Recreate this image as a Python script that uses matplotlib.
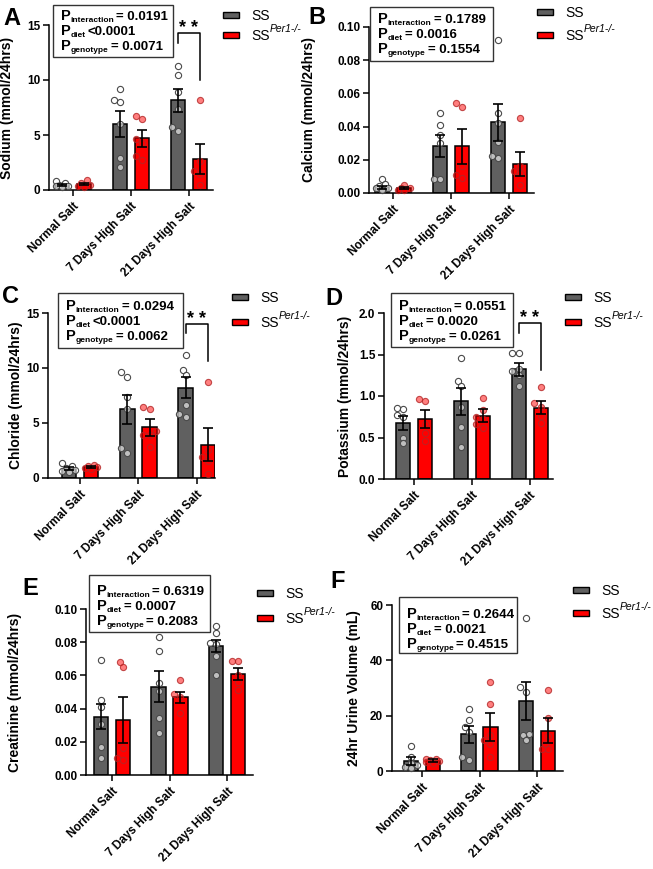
import matplotlib.pyplot as plt
import numpy as np
from matplotlib.patches import Rectangle
from matplotlib.transforms import ScaledTranslation

plt.rcParams['font.family'] = ['Liberation Sans', 'DejaVu Sans']
plt.rcParams['font.weight'] = 'bold'

W, H = 653, 869

diets = ['Normal Salt', '7 Days High Salt', '21 Days High Salt']
group_names = ['SS', 'Per1-/-']   # second one is drawn as SS + italic superscript

# A - sodium
sodium_ss_mean = [0.45, 6.0, 8.15]
sodium_ss_sem = [0.08, 1.2, 1.05]
sodium_ko_mean = [0.55, 4.7, 2.85]
sodium_ko_sem = [0.1, 0.8, 1.37]
sodium_ss_pts = [[0.6, 0.5, 0.4, 0.3, 0.8, 0.35], [9.2, 8.0, 8.2, 6.0, 2.9, 2.1], [11.3, 10.5, 8.9, 7.4, 5.7, 5.4]]
sodium_ko_pts = [[0.9, 0.5, 0.4, 0.6, 0.3], [6.5, 6.7, 4.6, 3.1, 2.7, 4.3], [8.2, 2.6, 1.7, 1.5, 0.45]]
sodium_p = ['= 0.0191', '<0.0001', '= 0.0071']

# B - calcium
calcium_ss_mean = [0.0035, 0.0284, 0.0425]
calcium_ss_sem = [0.001, 0.0065, 0.011]
calcium_ko_mean = [0.003, 0.0282, 0.0177]
calcium_ko_sem = [0.0005, 0.0105, 0.0072]
calcium_ss_pts = [[0.0085, 0.0055, 0.004, 0.003, 0.002, 0.003], [0.048, 0.041, 0.035, 0.030, 0.0087, 0.0087], [0.092, 0.048, 0.042, 0.031, 0.022, 0.021]]
calcium_ko_pts = [[0.005, 0.003, 0.002, 0.003, 0.002], [0.054, 0.052, 0.016, 0.011, 0.009], [0.045, 0.016, 0.013, 0.012, 0.005]]
calcium_p = ['= 0.1789', '= 0.0016', '= 0.1554']

# C - chloride
chloride_ss_mean = [0.85, 6.25, 8.2]
chloride_ss_sem = [0.15, 1.3, 0.95]
chloride_ko_mean = [1.0, 4.6, 3.0]
chloride_ko_sem = [0.1, 0.8, 1.5]
chloride_ss_pts = [[1.4, 1.1, 0.9, 0.7, 0.6, 0.5], [9.6, 9.2, 7.4, 6.3, 2.3, 2.7], [11.2, 9.85, 9.4, 6.6, 5.8, 5.5]]
chloride_ko_pts = [[1.2, 1.1, 1.0, 0.9, 0.8], [6.5, 6.3, 4.3, 3.9, 2.8, 3.9], [8.75, 2.55, 1.9, 1.5, 0.4]]
chloride_p = ['= 0.0294', '<0.0001', '= 0.0062']

# D - potassium
potassium_ss_mean = [0.675, 0.935, 1.32]
potassium_ss_sem = [0.08, 0.165, 0.075]
potassium_ko_mean = [0.72, 0.765, 0.86]
potassium_ko_sem = [0.11, 0.075, 0.075]
potassium_ss_pts = [[0.85, 0.84, 0.77, 0.75, 0.50, 0.43], [1.46, 1.18, 1.12, 0.87, 0.63, 0.38], [1.52, 1.52, 1.33, 1.30, 1.25, 1.12]]
potassium_ko_pts = [[0.96, 0.94, 0.66, 0.55, 0.46], [0.98, 0.83, 0.75, 0.72, 0.62, 0.66], [1.11, 0.92, 0.87, 0.76, 0.68]]
potassium_p = ['= 0.0551', '= 0.0020', '= 0.0261']

# E - creatinine
creat_ss_mean = [0.0352, 0.0533, 0.0775]
creat_ss_sem = [0.0076, 0.0092, 0.0037]
creat_ko_mean = [0.0332, 0.0469, 0.0608]
creat_ko_sem = [0.0138, 0.0033, 0.0036]
creat_ss_pts = [[0.069, 0.0453, 0.041, 0.031, 0.017, 0.010], [0.083, 0.0744, 0.0557, 0.0509, 0.0342, 0.0251], [0.090, 0.0855, 0.0795, 0.079, 0.0714, 0.0604]]
creat_ko_pts = [[0.068, 0.065, 0.016, 0.010, 0.009], [0.0573, 0.049, 0.047, 0.0372], [0.0684, 0.0684, 0.0605, 0.0513, 0.056]]
creat_p = ['= 0.6319', '= 0.0007', '= 0.2083']

# F - urine volume
urine_ss_mean = [3.6, 13.3, 25.2]
urine_ss_sem = [1.6, 3.1, 6.8]
urine_ko_mean = [3.75, 15.9, 14.5]
urine_ko_sem = [0.5, 5.1, 4.5]
urine_ss_pts = [[9.0, 5.0, 3.0, 2.0, 1.5, 1.1], [22.3, 18.6, 15.9, 14.0, 5.1, 4.1], [55.2, 30.2, 28.6, 13.3, 13.0, 11.1]]
urine_ko_pts = [[4.5, 4.3, 4.0, 3.5, 3.0, 3.2], [32.2, 24.2, 13.0, 11.1, 9.9, 5.1], [29.2, 19.0, 12.7, 9.9, 8.1, 8.1]]
urine_p = ['= 0.2644', '= 0.0021', '= 0.4515']

p_names = ['interaction', 'diet', 'genotype']

SS_COLOR = '#606060'
KO_COLOR = '#ff0000'

fig = plt.figure(figsize=(W / 100, H / 100), dpi=100)
renderer = fig.canvas.get_renderer()


def fxy(x, y):
    return x / W, 1 - y / H


def text_run(x, y, pieces, zorder=6):
    # pieces: (text, size, baseline shift px, weight, style, gap px after)
    for s, size, dy, weight, style, gap in pieces:
        t = fig.text(*fxy(x, y + dy), s, fontsize=size, fontweight=weight, fontstyle=style,
                     va='baseline', ha='left', zorder=zorder)
        x += t.get_window_extent(renderer).width + gap


def swarm(vals, xpx, ypx, d=5.5):
    # small beeswarm, kept inside the bar width
    vals = np.asarray(vals, dtype=float)
    offs = np.zeros(len(vals))
    placed = []
    for i in np.argsort(vals):
        y = vals[i] * ypx
        best, bestd = 0.0, -1
        for k in [0, -1, 1, -2, 2]:
            x = k * 3.2
            md = min([np.hypot(x - px, y - py) for px, py in placed] + [99])
            if md >= d:
                best = x
                break
            if md > bestd:
                best, bestd = x, md
        placed.append((best, y))
        offs[i] = best / xpx
    return offs


def panel(letter, rect, xlim, ymax, yticks, yfmt, ylabel, ylab_x,
          ss_mean, ss_sem, ss_pts, ko_mean, ko_sem, ko_pts, pvals,
          letter_xy, legend_xy, box, line1, sig=None):
    l, t, r, b = rect
    ax = fig.add_axes([l / W, 1 - b / H, (r - l) / W, (b - t) / H])
    x = np.arange(len(diets))
    w, off = 0.25, 0.19
    ax.bar(x - off, ss_mean, w, color=SS_COLOR, edgecolor='black', linewidth=1.1, zorder=2)
    ax.bar(x + off, ko_mean, w, color=KO_COLOR, edgecolor='black', linewidth=1.1, zorder=2)

    xpx = (r - l) / (xlim[1] - xlim[0])
    ypx = (b - t) / ymax
    for i in range(len(diets)):
        o = swarm(ss_pts[i], xpx, ypx)
        ax.scatter(x[i] - off + o, ss_pts[i], s=20, facecolor=(1, 1, 1, 0.6),
                   edgecolor='#4a4a4a', linewidth=0.8, zorder=3, clip_on=False)
        o = swarm(ko_pts[i], xpx, ypx)
        ax.scatter(x[i] + off + o, ko_pts[i], s=20, facecolor=(1, 0, 0, 0.5),
                   edgecolor=(0.7, 0.15, 0.15, 0.8), linewidth=0.8, zorder=3, clip_on=False)

    ax.errorbar(x - off, ss_mean, yerr=ss_sem, fmt='none', ecolor='black',
                elinewidth=1.2, capsize=3.6, capthick=1.2, zorder=4)
    ax.errorbar(x + off, ko_mean, yerr=ko_sem, fmt='none', ecolor='black',
                elinewidth=1.2, capsize=3.6, capthick=1.2, zorder=4)

    ax.set_xlim(*xlim)
    ax.set_ylim(0, ymax)
    ax.set_yticks(yticks)
    ax.set_yticklabels([yfmt.format(v) for v in yticks])
    ax.set_xticks(x)
    ax.set_xticklabels(diets, rotation=45, ha='right', rotation_mode='anchor')
    shift = ScaledTranslation(4 / 100, 0, fig.dpi_scale_trans)
    for lbl in ax.get_xticklabels():
        lbl.set_transform(lbl.get_transform() + shift)
    ax.tick_params(axis='both', direction='out', length=4.3, width=1.1, labelsize=8.5, pad=2)
    ax.tick_params(axis='x', pad=3)
    for s in ['top', 'right']:
        ax.spines[s].set_visible(False)
    for s in ['left', 'bottom']:
        ax.spines[s].set_linewidth(1.1)
    ax.set_ylabel(ylabel, fontsize=10, fontweight='bold')
    ax.yaxis.set_label_coords((ylab_x - l) / (r - l), 0.5)

    # panel letter
    fig.text(*fxy(*letter_xy), letter, fontsize=17, fontweight='bold', va='baseline', ha='left')

    # legend
    lx, ly1, ly2 = legend_xy
    for yy, col, k in [(ly1, SS_COLOR, 0), (ly2, KO_COLOR, 1)]:
        x0, y0 = fxy(lx, yy + 3)
        fig.add_artist(Rectangle((x0, y0), 16 / W, 6 / H, transform=fig.transFigure,
                                 facecolor=col, edgecolor='black', linewidth=1.0))
        pieces = [('SS', 10, 5, 'normal', 'normal', 0.5)]
        if k == 1:
            pieces.append((group_names[1], 7.5, -3, 'normal', 'italic', 0))
        text_run(lx + 28, yy, pieces)

    # stats box
    bx0, by0, bx1, by1 = box
    x0, y0 = fxy(bx0, by1)
    fig.add_artist(Rectangle((x0, y0), (bx1 - bx0) / W, (by1 - by0) / H,
                             transform=fig.transFigure, facecolor='white',
                             edgecolor='#333333', linewidth=1.0, zorder=5))
    for k, (name, val) in enumerate(zip(p_names, pvals)):
        yb = line1 + 15 * k + 5
        text_run(bx0 + 8, yb, [('P', 10.5, 0, 'bold', 'normal', 0),
                               (name, 6, 2, 'bold', 'normal', 2),
                               (val, 9.5, 0, 'bold', 'normal', 0)])

    if sig is not None:
        top, lft, rgt = sig
        ax.plot([2 - off, 2 - off, 2 + off, 2 + off], [lft, top, top, rgt], color='black',
                linewidth=1.1, clip_on=False, zorder=5)
        ax.text(2, top, '* *', fontsize=13, fontweight='bold', ha='center', va='baseline',
                clip_on=False)
    return ax


panel('A', (49, 25, 213, 190), (-0.414, 2.414), 15, [0, 5, 10, 15], '{:.0f}',
      'Sodium (mmol/24hrs)', 14,
      sodium_ss_mean, sodium_ss_sem, sodium_ss_pts, sodium_ko_mean, sodium_ko_sem, sodium_ko_pts,
      sodium_p, (3, 25), (223, 15, 35), (53, 5, 173, 57), 15, sig=(14.3, 13.4, 10.0))

panel('B', (369, 27, 534, 193), (-0.414, 2.43), 0.10, [0, 0.02, 0.04, 0.06, 0.08, 0.10], '{:.2f}',
      'Calcium (mmol/24hrs)', 316,
      calcium_ss_mean, calcium_ss_sem, calcium_ss_pts, calcium_ko_mean, calcium_ko_sem, calcium_ko_pts,
      calcium_p, (308, 24), (537, 12, 35), (370, 7, 493, 61), 18)

panel('C', (48, 313, 215, 478), (-0.547, 2.31), 15, [0, 5, 10, 15], '{:.0f}',
      'Chloride (mmol/24hrs)', 23,
      chloride_ss_mean, chloride_ss_sem, chloride_ss_pts, chloride_ko_mean, chloride_ko_sem, chloride_ko_pts,
      chloride_p, (2, 303), (232, 297, 322), (58, 293, 183, 348), 305, sig=(14.0, 13.2, 10.6))

panel('D', (384, 313, 553, 479), (-0.517, 2.40), 2.0, [0, 0.5, 1.0, 1.5, 2.0], '{:.1f}',
      'Potassium (mmol/24hrs)', 352,
      potassium_ss_mean, potassium_ss_sem, potassium_ss_pts, potassium_ko_mean, potassium_ko_sem, potassium_ko_pts,
      potassium_p, (325, 305), (565, 297, 322), (391, 293, 513, 347), 305, sig=(1.88, 1.76, 1.31))

panel('E', (86, 609, 253, 775), (-0.452, 2.45), 0.10, [0, 0.02, 0.04, 0.06, 0.08, 0.10], '{:.2f}',
      'Creatinine (mmol/24hrs)', 22,
      creat_ss_mean, creat_ss_sem, creat_ss_pts, creat_ko_mean, creat_ko_sem, creat_ko_pts,
      creat_p, (22, 595), (257, 593, 618), (89, 575, 210, 632), 590)

panel('F', (392, 605, 563, 771), (-0.52, 2.45), 60, [0, 20, 40, 60], '{:.0f}',
      '24hr Urine Volume (mL)', 361,
      urine_ss_mean, urine_ss_sem, urine_ss_pts, urine_ko_mean, urine_ko_sem, urine_ko_pts,
      urine_p, (330, 588), (573, 590, 613), (399, 597, 517, 653), 613)

fig.savefig('out.png', dpi=100)
